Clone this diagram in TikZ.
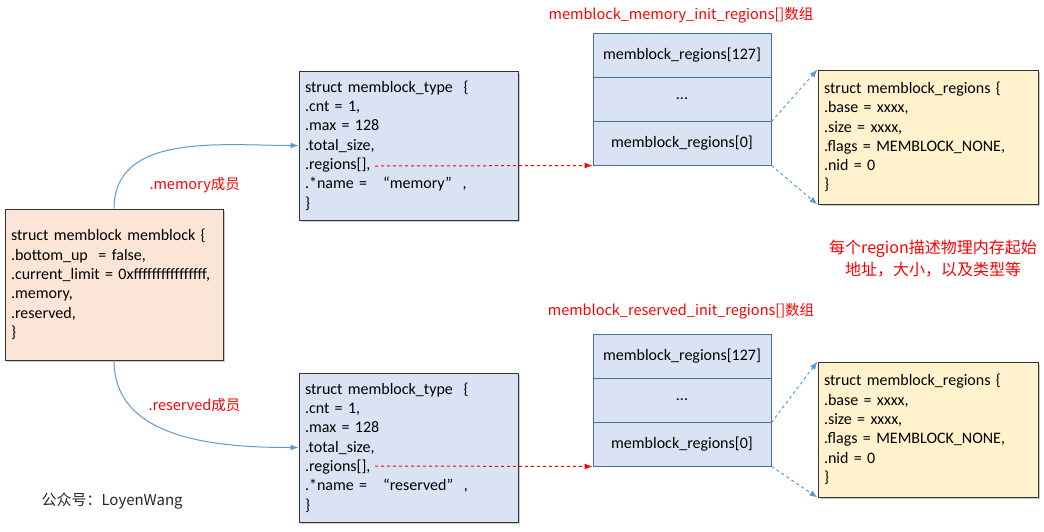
\documentclass[tikz,border=0pt]{standalone}
\usepackage{fontspec}
\setmainfont{Carlito}
\newfontfamily\cjk{Noto Sans CJK SC}
\usetikzlibrary{shadows,arrows.meta}

\definecolor{peach}{HTML}{FBE5D6}
\definecolor{paleblue}{HTML}{DAE3F3}
\definecolor{paleyellow}{HTML}{FFF2CC}
\definecolor{linkblue}{HTML}{5B9BD5}
\definecolor{cellline}{HTML}{41719C}

\tikzset{
  structbox/.style={draw=black!80, line width=1pt, align=left, inner xsep=6pt,
    font=\fontsize{16}{19.3}\selectfont,
    drop shadow={shadow xshift=1.5pt, shadow yshift=-1.5pt, fill=black!40, opacity=.5}},
  cell/.style={draw=cellline, fill=paleblue, line width=1pt, minimum width=178,
    minimum height=44, font=\fontsize{16}{19}\selectfont},
  redtext/.style={text=red, font=\cjk\fontsize{14.5}{18}\selectfont},
  member/.style={draw=linkblue, line width=1pt, -{Latex[length=8pt,width=6pt]}},
  regptr/.style={draw=red, dashed, line width=1pt, -{Latex[length=8pt,width=6pt]}},
  expand/.style={draw=linkblue, dashed, line width=1pt, -{Latex[length=8pt,width=6pt]}}
}

\begin{document}
\begin{tikzpicture}[x=1pt,y=-1pt]
    \useasboundingbox[fill=white] (0,0) rectangle (1044,531);

    % memblock itself
    \node[structbox, fill=peach, text width=206, minimum height=151] (memblk) at (114,284.5)
        {struct memblock memblock \{\\ .bottom\_up\ \ = false,\\ .current\_limit = 0xffffffffffffffff,\\ .memory,\\ .reserved,\\ \}};

    % the two memblock_type
    \node[structbox, fill=paleblue, text width=207, minimum height=149] (memtype) at (408.5,145.5)
        {struct memblock\_type\ \ \{\\ .cnt = 1,\\ .max = 128\\ .total\_size,\\ .regions[],\\ .*name = \ \ “memory”\ \ ,\\ \}};
    \node[structbox, fill=paleblue, text width=207, minimum height=149] (restype) at (408.5,447.5)
        {struct memblock\_type\ \ \{\\ .cnt = 1,\\ .max = 128\\ .total\_size,\\ .regions[],\\ .*name = \ \ “reserved”\ \ ,\\ \}};

    % region arrays
    \node[redtext] (memtitle) at (681,15) {memblock\_memory\_init\_regions[]数组};
    \node[redtext] (restitle) at (681,311) {memblock\_reserved\_init\_regions[]数组};
    \foreach \n/\y in {mem/33, res/334} {
        \node[cell] (\n cell1) at (682,\y+22) {memblock\_regions[127]};
        \node[cell] (\n cell2) at (682,\y+66) {...};
        \node[cell] (\n cell3) at (682,\y+110) {memblock\_regions[0]};
    }

    % one region each
    \node[structbox, fill=paleyellow, text width=208, minimum height=134] (memregion) at (928,137)
        {struct memblock\_regions \{\\ .base = xxxx,\\ .size = xxxx,\\ .flags = MEMBLOCK\_NONE,\\ .nid = 0\\ \}};
    \node[structbox, fill=paleyellow, text width=208, minimum height=135] (resregion) at (928,429.5)
        {struct memblock\_regions \{\\ .base = xxxx,\\ .size = xxxx,\\ .flags = MEMBLOCK\_NONE,\\ .nid = 0\\ \}};

    \node[text=red, align=center, font=\cjk\fontsize{16}{22}\selectfont] (note) at (933,259)
        {每个region描述物理内存起始\\地址，大小，以及类型等};

    % links
    \draw[member] (memblk.north) to[out=90,in=180] (memtype.west);
    \draw[member] (memblk.south) to[out=-90,in=180] (restype.west);
    \node[redtext, anchor=west] (memlbl) at (146,185) {.memory成员};
    \node[redtext, anchor=west] (reslbl) at (145,405) {.reserved成员};

    \coordinate (memregs) at (375,166);
    \coordinate (resregs) at (375,466);
    \draw[regptr] (memregs) -- (memcell3.south west);
    \draw[regptr] (resregs) -- (rescell3.south west);

    \draw[expand] (memcell2.south east) -- (memregion.north west);
    \draw[expand] (memcell3.south east) -- (memregion.south west);
    \draw[expand] (rescell2.south east) -- (resregion.north west);
    \draw[expand] (rescell3.south east) -- (resregion.south west);

    \node[anchor=west, text=black!85, font=\cjk\fontsize{15}{18}\selectfont] (wm) at (38,501) {公众号：LoyenWang};
\end{tikzpicture}
\end{document}
